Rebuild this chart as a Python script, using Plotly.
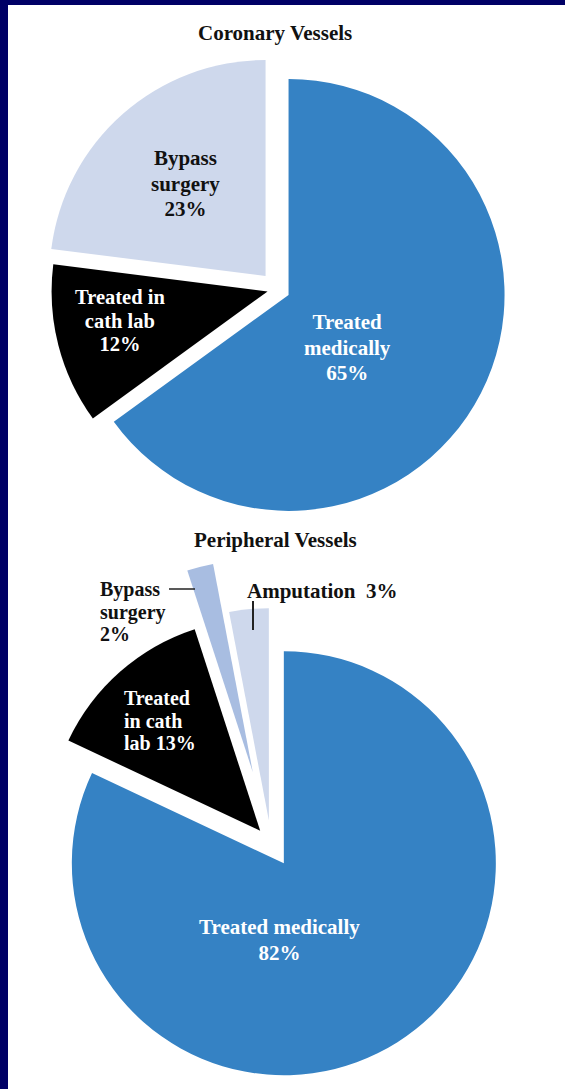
import math
import plotly.graph_objects as go

PAGE_W, PAGE_H = 565, 1089
FONT = "Liberation Serif"

# ---- Coronary vessels ----
cor_title = "Coronary Vessels"
cor_labels = ["Treated medically", "Treated in cath lab", "Bypass surgery"]
cor_values = [65, 12, 23]
cor_colors = ["#3582C4", "#000000", "#CED8EC"]
cor_pull = [0.060, 0.045, 0.080]
cor_text = ["Treated<br>medically<br>{v}%", "Treated in<br>cath lab<br>{v}%", "Bypass<br>surgery<br>{v}%"]
cor_text_colors = ["#FFFFFF", "#FFFFFF", "#111111"]

# ---- Peripheral vessels ----
per_title = "Peripheral Vessels"
per_labels = ["Treated medically", "Treated in cath lab", "Bypass surgery", "Amputation"]
per_values = [82, 13, 2, 3]
per_colors = ["#3582C4", "#000000", "#A8BDE1", "#CED8EC"]
per_pull = [0.113, 0.077, 0.345, 0.108]
per_text = ["Treated medically<br>{v}%", "Treated<br>in cath<br>lab {v}%", "Bypass<br>surgery<br>{v}%",
            "Amputation\u00a0\u00a0{v}%"]
per_text_colors = ["#FFFFFF", "#FFFFFF", "#111111", "#111111"]

NAVY = "#000066"


def px_x(x):
    return x / PAGE_W


def px_y(y):
    return 1 - y / PAGE_H


def pie_domain(cx, cy, r, max_pull):
    half = r * (1 + max_pull)
    return dict(x=[px_x(cx - half), px_x(cx + half)],
                y=[px_y(cy + half), px_y(cy - half)])


def mid_direction(values, idx):
    """Unit vector (screen coords) through the middle of a clockwise slice starting at 12 o'clock."""
    total = sum(values)
    start = sum(values[:idx]) / total * 360
    mid = math.radians(start + values[idx] / total * 180)
    return math.sin(mid), -math.cos(mid)


fig = go.Figure()

# Coronary pie: all three wedges pulled apart slightly
cor_cx, cor_cy, cor_r = 277, 289, 216
fig.add_trace(go.Pie(
    labels=cor_labels, values=cor_values, sort=False, direction="clockwise", rotation=0,
    pull=cor_pull, marker=dict(colors=cor_colors, line=dict(width=0)),
    textinfo="none", hoverinfo="label+percent", showlegend=False,
    domain=pie_domain(cor_cx, cor_cy, cor_r, max(cor_pull)),
))

# Peripheral pie: the thin bypass wedge is exploded far out, so it gets its own trace
per_cx, per_cy, per_r = 271, 843, 212
far = 2
near_pull = [p if i != far else 0 for i, p in enumerate(per_pull)]
near_colors = [c if i != far else "rgba(0,0,0,0)" for i, c in enumerate(per_colors)]
fig.add_trace(go.Pie(
    labels=per_labels, values=per_values, sort=False, direction="clockwise", rotation=0,
    pull=near_pull, marker=dict(colors=near_colors, line=dict(width=0)),
    textinfo="none", hoverinfo="label+percent", showlegend=False,
    domain=pie_domain(per_cx, per_cy, per_r, max(near_pull)),
))
dx, dy = mid_direction(per_values, far)
far_cx = per_cx + per_pull[far] * per_r * dx
far_cy = per_cy + per_pull[far] * per_r * dy
far_colors = [c if i == far else "rgba(0,0,0,0)" for i, c in enumerate(per_colors)]
fig.add_trace(go.Pie(
    labels=per_labels, values=per_values, sort=False, direction="clockwise", rotation=0,
    marker=dict(colors=far_colors, line=dict(width=0)),
    textinfo="none", hoverinfo="skip", showlegend=False,
    domain=pie_domain(far_cx, far_cy, per_r, 0),
))


def add_label(template, value, x, y0, step, color, anchor="center", glyph=21):
    """One text block per wedge; the line pitch is set by the base font size,
    the glyphs by an inner span, so lines can sit tighter than the default 1.3em."""
    lines = template.format(v=value).split("<br>")
    body = "<br>".join(f'<span style="font-size:{glyph}px">{ln}</span>' for ln in lines)
    base = step / 1.3 if len(lines) > 1 else glyph
    fig.add_annotation(
        x=px_x(x), y=px_y(y0 + (len(lines) - 1) * step / 2), xref="paper", yref="paper",
        text=body, showarrow=False, xanchor=anchor, yanchor="middle", align=anchor,
        font=dict(family=FONT, size=base, color=color, weight="bold"),
    )


# label placement: (x, first line y, line step, anchor, glyph size)
cor_label_pos = [(347, 322, 25.5, "center", 21), (120, 297, 23.5, "center", 20.5),
                 (185, 158, 25.5, "center", 21)]
per_label_pos = [(279, 927, 26, "center", 21), (122, 698, 22.5, "left", 20),
                 (98, 589, 22.5, "left", 20), (245, 591, 0, "left", 21)]

for tpl, v, c, (x, y0, st, an, g) in zip(cor_text, cor_values, cor_text_colors, cor_label_pos):
    add_label(tpl, v, x, y0, st, c, an, g)
for tpl, v, c, (x, y0, st, an, g) in zip(per_text, per_values, per_text_colors, per_label_pos):
    add_label(tpl, v, x, y0, st, c, an, g)

# chart titles
for title, y in [(cor_title, 33), (per_title, 540)]:
    fig.add_annotation(x=px_x(275), y=px_y(y), xref="paper", yref="paper", text=title,
                       showarrow=False, xanchor="center", yanchor="middle",
                       font=dict(family=FONT, size=21, color="#111111", weight="bold"))

shapes = [
    # frame bands
    dict(type="rect", x0=0, x1=px_x(8), y0=0, y1=1, fillcolor=NAVY, line=dict(width=0)),
    dict(type="rect", x0=0, x1=1, y0=px_y(5), y1=1, fillcolor=NAVY, line=dict(width=0)),
    # leader lines for the small outer labels
    dict(type="line", x0=px_x(169), x1=px_x(195), y0=px_y(589), y1=px_y(589),
         line=dict(color="#222222", width=1.5)),
    dict(type="line", x0=px_x(253), x1=px_x(253), y0=px_y(601), y1=px_y(630),
         line=dict(color="#222222", width=2)),
]
for s in shapes:
    s.update(xref="paper", yref="paper", layer="above")

fig.update_layout(
    width=PAGE_W, height=PAGE_H, autosize=False,
    margin=dict(l=0, r=0, t=0, b=0),
    paper_bgcolor="#FFFFFF", plot_bgcolor="#FFFFFF",
    shapes=shapes,
)

fig.write_html("out.html")
